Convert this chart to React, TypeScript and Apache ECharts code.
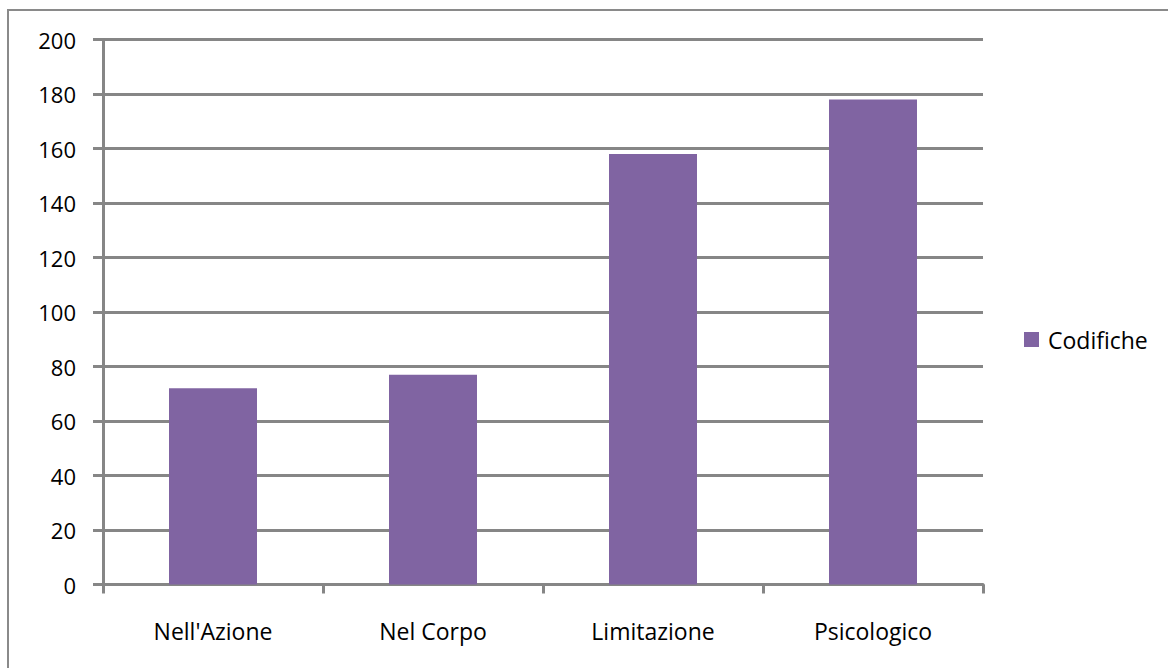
import React, { useEffect, useRef } from "react";
import * as echarts from "echarts";

const categories: string[] = ["Nell'Azione", "Nel Corpo", "Limitazione", "Psicologico"];
const codificheValues: number[] = [72, 77, 158, 178];
const seriesName = "Codifiche";
const yMin = 0;
const yMax = 200;
const yStep = 20;

const FONT = "'Open Sans', 'Noto Sans', sans-serif";
const GRID_GRAY = "#868686";

export default function App() {
  const ref = useRef<HTMLDivElement>(null);

  useEffect(() => {
    if (!ref.current) return;
    const chart = echarts.init(ref.current, undefined, { renderer: "svg" });
    chart.setOption({
      animation: false,
      backgroundColor: "#ffffff",
      textStyle: { fontFamily: FONT },
      graphic: [
        {
          type: "rect",
          shape: { x: 8, y: 10, width: 1180, height: 680 },
          style: { fill: "none", stroke: "#8a8a8a", lineWidth: 2 },
          silent: true,
        },
      ],
      grid: { left: 103, right: 185, top: 39.5, bottom: 83.5, containLabel: false },
      legend: {
        data: [seriesName],
        orient: "vertical",
        left: 1024,
        top: 328,
        padding: 0,
        icon: "rect",
        itemWidth: 15,
        itemHeight: 15,
        textStyle: {
          fontFamily: FONT,
          fontSize: 23,
          color: "#000000",
          padding: [0, 0, 0, 4],
        },
      },
      xAxis: {
        type: "category",
        data: categories,
        axisLine: { lineStyle: { color: GRID_GRAY, width: 3 } },
        axisTick: { show: true, length: 9, lineStyle: { color: GRID_GRAY, width: 3 } },
        axisLabel: { margin: 35, fontFamily: FONT, fontSize: 23, color: "#000000" },
        splitLine: { show: false },
      },
      yAxis: {
        type: "value",
        min: yMin,
        max: yMax,
        interval: yStep,
        axisLine: { show: true, lineStyle: { color: GRID_GRAY, width: 3 } },
        axisTick: { show: true, length: 10, lineStyle: { color: GRID_GRAY, width: 3 } },
        axisLabel: { margin: 27, fontFamily: FONT, fontSize: 22, color: "#000000" },
        splitLine: { show: true, lineStyle: { color: GRID_GRAY, width: 3 } },
      },
      series: [
        {
          name: seriesName,
          type: "bar",
          data: codificheValues,
          barCategoryGap: "60%",
          itemStyle: { color: "#8064A2" },
        },
      ],
    });
    return () => chart.dispose();
  }, []);

  return (
    <div
      ref={ref}
      style={{ position: "fixed", left: 0, top: 0, width: 1168, height: 668 }}
    />
  );
}
